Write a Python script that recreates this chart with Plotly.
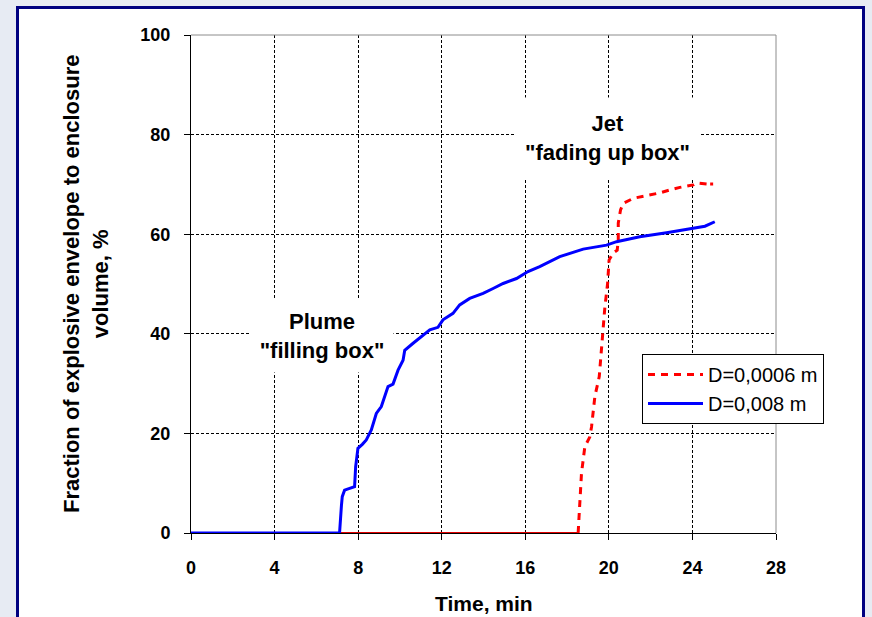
import plotly.graph_objects as go

# ---- data ----
blue_t = [0, 7.11, 7.2, 7.24, 7.35, 7.83, 7.88, 7.99, 8.2, 8.39, 8.63, 8.87, 9.11, 9.43, 9.67,
          9.91, 10.15, 10.23, 10.63, 11.1, 11.43, 11.82, 12.06, 12.54, 12.86, 13.34, 13.98,
          14.46, 14.94, 15.58, 16.13, 16.69, 17.65, 18.77, 19.89, 20.37, 21.48, 22.76, 23.88,
          24.6, 25.07]
blue_y = [0, 0, 5.5, 7.3, 8.6, 9.3, 13.3, 17.0, 17.8, 18.7, 20.7, 24.0, 25.4, 29.4, 29.9,
          32.7, 34.7, 36.7, 38.1, 39.8, 40.8, 41.3, 42.8, 44.1, 45.8, 47.1, 48.1,
          49.1, 50.1, 51.1, 52.5, 53.5, 55.5, 57.0, 57.8, 58.5, 59.5, 60.3, 61.0,
          61.6, 62.5]

red_t = [0, 18.53, 18.58, 18.69, 18.85, 19.09, 19.17, 19.33, 19.54, 19.62, 19.73, 19.81,
         19.94, 20.01, 20.2, 20.4, 20.45, 20.45, 20.56, 20.69, 21.17, 21.97, 22.44, 22.92,
         23.4, 24.04, 24.2, 24.68, 24.92, 24.92]
red_y = [0, 0, 4.0, 12.0, 17.3, 19.3, 21.3, 27.4, 31.4, 36.1, 40.8, 45.4,
         50.1, 54.8, 56.2, 56.8, 58.8, 62.2, 64.9, 66.2, 67.2, 67.9, 68.3, 68.9,
         69.4, 69.9, 70.3, 70.1, 70.5, 69.8]

x_ticks = [0, 4, 8, 12, 16, 20, 24, 28]
y_ticks = [0, 20, 40, 60, 80, 100]

red_name = "D=0,0006 m"
blue_name = "D=0,008 m"
x_title = "Time, min"
y_title = "Fraction of explosive envelope to enclosure<br>volume, %"
plume_text = "Plume<br>\"filling box\""
jet_text = "Jet<br>\"fading up box\""
plume_pos = (6.25, 39.6)
jet_pos = (19.93, 79.4)

FONT = "Liberation Sans, Arial, sans-serif"

fig = go.Figure()

# red flat part at zero (appears solid)
fig.add_trace(go.Scatter(x=red_t[:2], y=red_y[:2], mode="lines",
                         line=dict(color="#e00000", width=2), showlegend=False,
                         hoverinfo="skip"))
# red rising part (dashed)
fig.add_trace(go.Scatter(x=red_t[1:], y=red_y[1:], mode="lines", name=red_name,
                         line=dict(color="#ff0000", width=3, dash="7px,6px"),
                         legendrank=1, legendgroup="a"))
# blue
fig.add_trace(go.Scatter(x=blue_t, y=blue_y, mode="lines", name=blue_name,
                         line=dict(color="#0000ff", width=3),
                         legendrank=2, legendgroup="b"))

L, R, T, B = 191, 96, 35, 84
W, H = 872, 617
pw, ph = W - L - R, H - T - B


def px_x(p):
    return (p - L) / pw


def px_y(p):
    return (H - B - p) / ph


shapes = [
    # white card with navy frame
    dict(type="rect", xref="paper", yref="paper", x0=px_x(17.5), x1=px_x(863.5),
         y0=px_y(680), y1=px_y(7.5), fillcolor="white",
         line=dict(color="#000080", width=3), layer="below"),
    # grey top and right borders of plot area
    dict(type="line", xref="paper", yref="paper", x0=0, x1=1, y0=1, y1=1,
         line=dict(color="#8c8c8c", width=1), layer="above"),
    dict(type="line", xref="paper", yref="paper", x0=1, x1=1, y0=0, y1=1,
         line=dict(color="#8c8c8c", width=1), layer="above"),
]

annotations = [
    dict(x=plume_pos[0], y=plume_pos[1], xref="x", yref="y", text=plume_text,
         showarrow=False, font=dict(family=FONT, size=22, color="black", weight="bold"),
         bgcolor="white", width=140, height=70, align="center"),
    dict(x=jet_pos[0], y=jet_pos[1], xref="x", yref="y", text=jet_text,
         showarrow=False, font=dict(family=FONT, size=22, color="black", weight="bold"),
         bgcolor="white", width=181, height=78, align="center"),
    dict(x=px_x(86), y=0.5, xref="paper", yref="paper", text=y_title, textangle=-90,
         showarrow=False, font=dict(family=FONT, size=22, color="black", weight="bold"),
         xanchor="center", yanchor="middle", align="center"),
    dict(x=0.5, y=px_y(603), xref="paper", yref="paper", text=x_title,
         showarrow=False, font=dict(family=FONT, size=21, color="black", weight="bold"),
         xanchor="center", yanchor="middle"),
]

fig.update_layout(
    width=W, height=H,
    margin=dict(l=L, r=R, t=T, b=B, pad=0),
    paper_bgcolor="#e7ebf3",
    plot_bgcolor="rgba(0,0,0,0)",
    font=dict(family=FONT, color="black"),
    shapes=shapes,
    annotations=annotations,
    legend=dict(x=px_x(642), y=px_y(354), xanchor="left", yanchor="top",
                bgcolor="white", bordercolor="black", borderwidth=1,
                font=dict(family=FONT, size=20, color="black"),
                traceorder="grouped", tracegroupgap=0, itemwidth=55),
)

axis_common = dict(
    showline=True, linecolor="black", linewidth=1,
    ticks="outside", ticklen=6, tickcolor="black", tickwidth=1,
    showgrid=True, gridcolor="black", gridwidth=1, griddash="3px,2px",
    zeroline=False, layer="below traces",
    tickfont=dict(family=FONT, size=18, color="black", weight="bold"),
)
fig.update_xaxes(range=[0, 28], tickvals=x_ticks, ticktext=[str(v) for v in x_ticks],
                 ticklabelstandoff=12, **axis_common)
fig.update_yaxes(range=[0, 100], tickvals=y_ticks, ticktext=[str(v) for v in y_ticks],
                 ticklabelstandoff=10, **axis_common)

fig.write_html("out.html")
